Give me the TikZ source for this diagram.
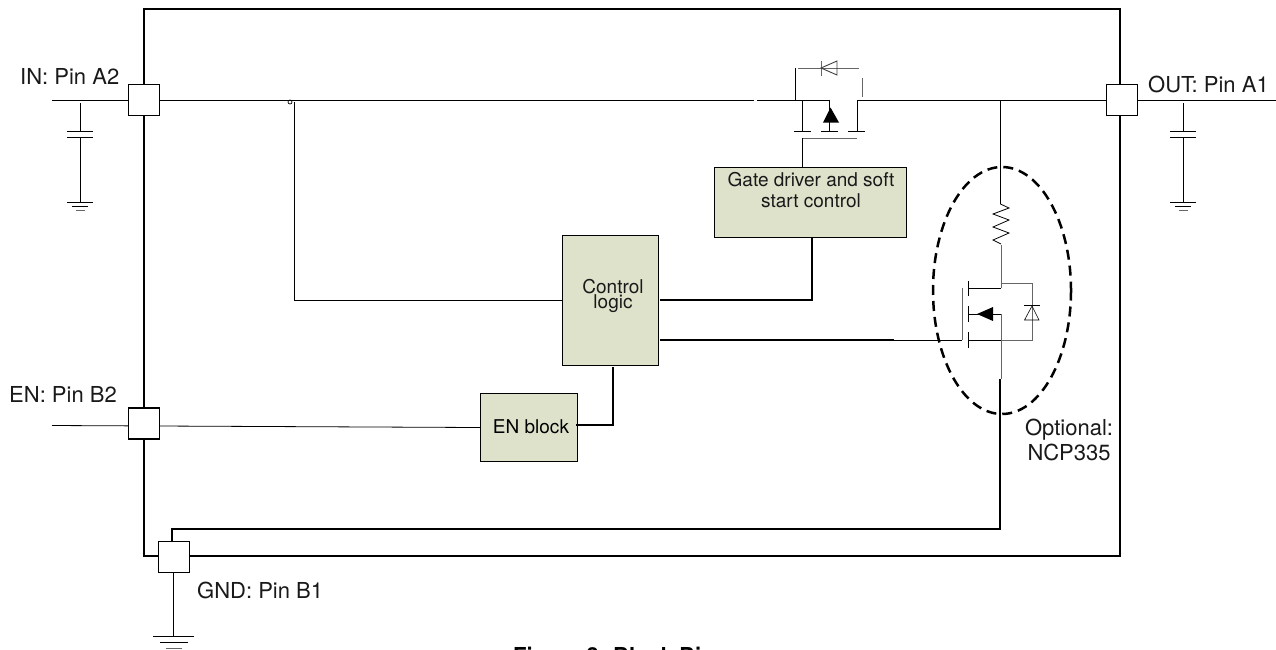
\documentclass[tikz,border=0pt]{standalone}
\usepackage{fontspec}
\setmainfont{TeX Gyre Heros}
\tikzset{
	x=1pt,y=-1pt,
	wire/.style={line width=.8pt},
	heavywire/.style={line width=1.4pt},
	graywire/.style={line width=1pt, black!60},
	blockbox/.style={draw, fill=blockfill, line width=.8pt, inner sep=0pt, align=center, font=\fontsize{19}{21}\selectfont},
	pinbox/.style={draw, fill=white, line width=1.1pt, minimum width=31.5pt, minimum height=31pt, inner sep=0pt},
	lbl/.style={font=\fontsize{22}{25}\selectfont, inner sep=0pt, align=center, text=black!90},
	blocklbl/.style={font=\fontsize{19}{21}\selectfont, inner sep=0pt, align=center, text=black!90},
}
\definecolor{blockfill}{RGB}{222,226,203}

\begin{document}
\begin{tikzpicture}
	\useasboundingbox (0,0) rectangle (1276,649);

	% outer frame
	\draw[line width=2.2pt] (144,9) rectangle (1120,556);

	% pins and their labels
	\draw[wire] (52,100) -- (754,100);
	\draw[wire] (757,100) -- (829,100);
	\draw[wire] (857,100) -- (1276,100);
	\draw[wire] (52,425.5) -- (480,427.5);
	\draw[heavywire] (172,541) -- (172,529) -- (1000,529) -- (1000,379);

	\node[pinbox] (pinin) at (144,100) {};
	\node[pinbox] (pinout) at (1122,100) {};
	\node[pinbox] (pinen) at (144,423.5) {};
	\node[pinbox] (pingnd) at (174,557) {};

	\node[lbl, anchor=west] (lblin) at (20,76) {IN: Pin A2};
	\node[lbl, anchor=west] (lblout) at (1148,84) {OUT: Pin A1};
	\node[lbl, anchor=west] (lblen) at (9,394) {EN: Pin B2};
	\node[lbl, anchor=west] (lblgnd) at (197,590) {GND: Pin B1};

	% input and output capacitors
	\foreach \px/\nm in {80/capin, 1183/capout}{
		\coordinate (\nm top) at (\px,103);
		\coordinate (\nm gnd) at (\px,202);
		\draw[wire] (\nm top) -- (\px,131);
		\draw[wire] (\px,137) -- (\nm gnd);
		\draw[wire] (\px-13,131) -- (\px+13,131);
		\draw[wire] (\px-13,137) -- (\px+13,137);
		\draw[wire] (\px-13,202) -- (\px+13,202);
		\draw[wire] (\px-8,206) -- (\px+8,206);
		\draw[graywire] (\px-4.5,210) -- (\px+4.5,210);
	}

	% ground below the chip
	\coordinate (gndfoot) at (173,636);
	\draw[wire] (pingnd.south -| gndfoot) -- (gndfoot);
	\draw[wire] (153,636) -- (194,636);
	\draw[wire] (160,642) -- (188,642);
	\draw[graywire] (166,648) -- (182,648);

	% blocks
	\node[blockbox, minimum width=192pt, minimum height=70pt] (gatebox) at (810,202) {};
	\node[blocklbl] (gatetxt) at (811,190.5) {Gate driver and soft\\start control};
	\node[blockbox, minimum width=96pt, minimum height=130pt] (ctrlbox) at (610,300) {};
	\node[blocklbl, font=\fontsize{19}{15}\selectfont] (ctrltxt) at (613,296) {Control\\logic};
	\node[blockbox, minimum width=97pt, minimum height=68pt] (enbox) at (528.5,427) {\hspace*{5pt}EN block};

	% signal wiring
	\coordinate (tap) at (290,102);
	\draw[line width=.7pt] (tap) circle (2);
	\draw[wire] (294.5,102) -- (294.5,300) -- (ctrlbox.west);
	\draw[heavywire] (660,300) -- (812,300) -- (812,237);
	\draw[heavywire] (660,340) -- (894,340);
	\draw[wire] (894,340) -- (962,340);
	\draw[heavywire] (613,367) -- (613,425) -- (576,425);

	% series pass transistor
	\draw[wire] (795.5,68) -- (795.5,100);
	\draw[graywire] (798,68) -- (859,68);
	\draw[graywire] (862,78) -- (862,97);
	\draw[graywire] (821,61) -- (821,76);
	\draw[line width=.9pt, black!75] (821,68) -- (837,61) -- (837,75) -- cycle;
	\draw[wire] (802,100) -- (802,131);
	\draw[wire] (829.5,100) -- (829.5,131);
	\draw[wire] (857,100) -- (857,131);
	\draw[wire] (794,131) -- (811,131);
	\draw[wire] (821,131) -- (838,131);
	\draw[wire] (848,131) -- (865,131);
	\fill (830.5,107.5) -- (839,122.5) -- (823,122.5) -- cycle;
	\draw[graywire] (802,138) -- (857,138);
	\draw[wire] (802,138) -- (802,167);

	% optional discharge branch
	\draw[line width=2.5pt, dash pattern=on 10pt off 6pt] (1002,290.5) ellipse (69 and 123.5);
	\draw[heavywire] (1000.5,100) -- (1000.5,165);
	\draw[wire] (1000.5,165) -- (1000.5,204) -- (1009,208) -- (993,214) -- (1009,220) -- (993,227) -- (1009,233) -- (993,240) -- (1001,244);
	\draw[graywire] (1001,245) -- (1001,288);
	\draw[graywire] (1001,283) -- (1032,283) -- (1032,340) -- (1001,340);
	\draw[wire] (968,288) -- (1001,288);
	\draw[wire] (968,281) -- (968,296);
	\draw[wire] (968,306) -- (968,322);
	\draw[wire] (968,314) -- (1001,314);
	\draw[graywire] (1001,314) -- (1001,379);
	\draw[wire] (968,332) -- (968,348);
	\draw[wire] (968,340) -- (1001,340);
	\draw[graywire] (962,288) -- (962,340);
	\fill (977,314) -- (993,307) -- (993,321) -- cycle;
	\draw[wire] (1024,305.5) -- (1040,305.5);
	\draw[line width=.6pt] (1032,306) -- (1024.5,320) -- (1039,320) -- cycle;

	\node[lbl] (optlbl) at (1069,439.5) {Optional:\\NCP335};

	% caption, cut by the lower edge
	\begin{scope}
		\clip (0,0) rectangle (1276,649);
		\node[font=\fontsize{22}{25}\selectfont\bfseries, anchor=base west, inner sep=0pt] (caption) at (513,663) {Figure 3. Block Diagram};
	\end{scope}
\end{tikzpicture}
\end{document}
